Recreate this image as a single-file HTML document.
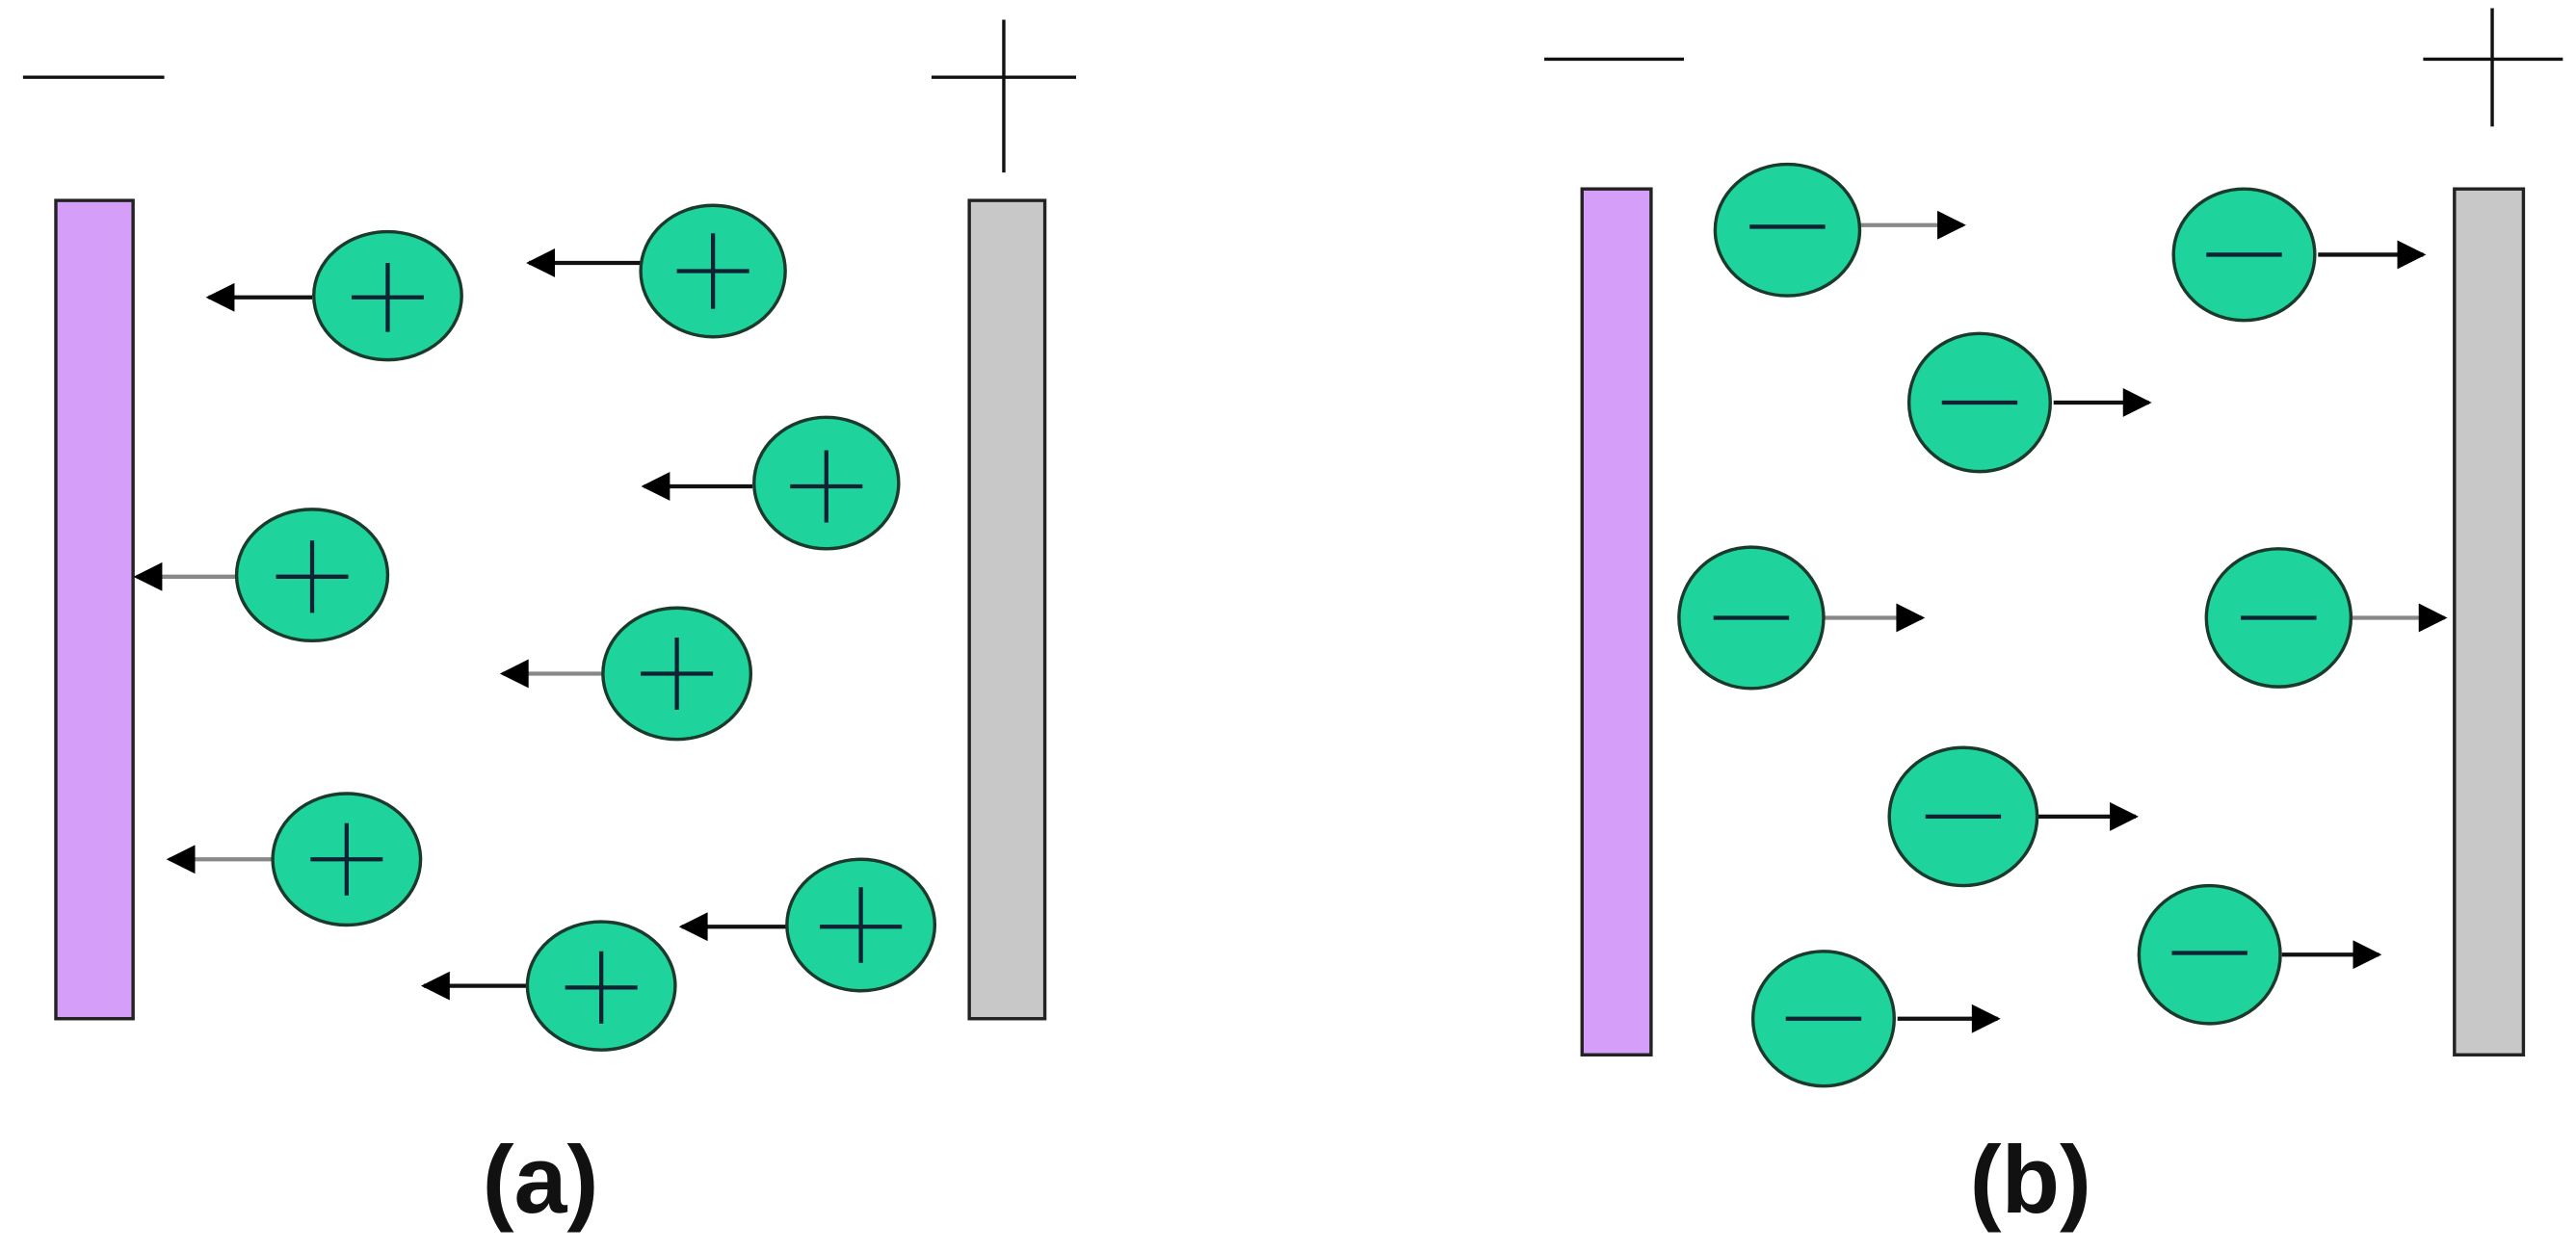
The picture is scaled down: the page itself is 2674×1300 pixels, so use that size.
<!DOCTYPE html>
<html><head><meta charset="utf-8"><style>
html,body{margin:0;padding:0;background:#fff;width:2674px;height:1300px;overflow:hidden}
svg{display:block}
</style></head><body>
<svg width="2674" height="1300" viewBox="0 0 1568 762" preserveAspectRatio="none">
<defs>
<marker id="ah" viewBox="0 0 10 10" refX="9" refY="5" markerWidth="8" markerHeight="7" orient="auto"><path d="M0,0 L10,5 L0,10 z" fill="#000"/></marker>
</defs>
<rect width="1568" height="762" fill="#fff"/>
<g stroke="#111" stroke-width="2" fill="none">
<line x1="14" y1="47" x2="100" y2="47"/>
<line x1="567" y1="47" x2="655" y2="47"/><line x1="611" y1="12" x2="611" y2="105"/>
<line x1="940" y1="36" x2="1025" y2="36"/>
<line x1="1475" y1="36" x2="1560" y2="36"/><line x1="1517" y1="5" x2="1517" y2="77"/>
</g>
<rect x="34" y="122" width="47" height="498" fill="#d59ef8" stroke="#222" stroke-width="2"/>
<rect x="590" y="122" width="46" height="498" fill="#c8c8c8" stroke="#222" stroke-width="2"/>
<rect x="963" y="115" width="42" height="527" fill="#d59ef8" stroke="#222" stroke-width="2"/>
<rect x="1494" y="115" width="42" height="527" fill="#c8c8c8" stroke="#222" stroke-width="2"/>
<g stroke="#111" stroke-width="2.5" marker-end="url(#ah)">
<line x1="190" y1="181" x2="127" y2="181"/>
<line x1="390" y1="160" x2="322" y2="160"/>
<line x1="458" y1="296" x2="392" y2="296"/>
<line x1="146" y1="351" x2="83" y2="351" stroke="#888"/>
<line x1="368" y1="410" x2="306" y2="410" stroke="#888"/>
<line x1="166" y1="523" x2="103" y2="523" stroke="#888"/>
<line x1="479" y1="564" x2="415" y2="564"/>
<line x1="322" y1="600" x2="258" y2="600"/>
<line x1="1132" y1="137" x2="1195" y2="137" stroke="#888"/>
<line x1="1411" y1="155" x2="1475" y2="155"/>
<line x1="1250" y1="245" x2="1308" y2="245"/>
<line x1="1110" y1="376" x2="1170" y2="376" stroke="#888"/>
<line x1="1431" y1="376" x2="1488" y2="376" stroke="#888"/>
<line x1="1240" y1="497" x2="1300" y2="497"/>
<line x1="1389" y1="581" x2="1448" y2="581"/>
<line x1="1155" y1="620" x2="1216" y2="620"/>
</g>
<g fill="#1fd39c" stroke="#1a3a2c" stroke-width="2">
<ellipse cx="236" cy="180" rx="45" ry="39"/>
<ellipse cx="434" cy="165" rx="44" ry="40"/>
<ellipse cx="503" cy="294" rx="44" ry="40"/>
<ellipse cx="190" cy="350" rx="46" ry="40"/>
<ellipse cx="412" cy="410" rx="45" ry="40"/>
<ellipse cx="211" cy="523" rx="45" ry="40"/>
<ellipse cx="524" cy="563" rx="45" ry="40"/>
<ellipse cx="366" cy="600" rx="45" ry="39"/>
<ellipse cx="1088" cy="140" rx="44" ry="40"/>
<ellipse cx="1366" cy="155" rx="43" ry="40"/>
<ellipse cx="1205" cy="245" rx="43" ry="42"/>
<ellipse cx="1066" cy="376" rx="44" ry="43"/>
<ellipse cx="1387" cy="376" rx="44" ry="42"/>
<ellipse cx="1195" cy="497" rx="45" ry="42"/>
<ellipse cx="1345" cy="581" rx="43" ry="42"/>
<ellipse cx="1110" cy="620" rx="43" ry="41"/>
</g>
<g stroke="#123" stroke-width="2.5">
<line x1="214" y1="181" x2="258" y2="181"/><line x1="236" y1="160" x2="236" y2="202"/>
<line x1="412" y1="165" x2="456" y2="165"/><line x1="434" y1="142" x2="434" y2="188"/>
<line x1="481" y1="296" x2="525" y2="296"/><line x1="503" y1="274" x2="503" y2="318"/>
<line x1="168" y1="351" x2="212" y2="351"/><line x1="190" y1="329" x2="190" y2="373"/>
<line x1="390" y1="410" x2="434" y2="410"/><line x1="412" y1="388" x2="412" y2="432"/>
<line x1="189" y1="523" x2="233" y2="523"/><line x1="211" y1="501" x2="211" y2="545"/>
<line x1="499" y1="564" x2="549" y2="564"/><line x1="524" y1="540" x2="524" y2="586"/>
<line x1="344" y1="601" x2="388" y2="601"/><line x1="366" y1="579" x2="366" y2="623"/>
<line x1="1065" y1="138" x2="1111" y2="138"/>
<line x1="1343" y1="155" x2="1389" y2="155"/>
<line x1="1182" y1="245" x2="1228" y2="245"/>
<line x1="1043" y1="376" x2="1089" y2="376"/>
<line x1="1364" y1="376" x2="1410" y2="376"/>
<line x1="1172" y1="497" x2="1218" y2="497"/>
<line x1="1322" y1="580" x2="1368" y2="580"/>
<line x1="1087" y1="620" x2="1133" y2="620"/>
</g>
<text x="329" y="738" text-anchor="middle" font-family="Liberation Sans, sans-serif" font-weight="bold" font-size="58" fill="#111">(a)</text>
<text x="1236" y="738" text-anchor="middle" font-family="Liberation Sans, sans-serif" font-weight="bold" font-size="58" fill="#111">(b)</text>
</svg>
</body></html>
